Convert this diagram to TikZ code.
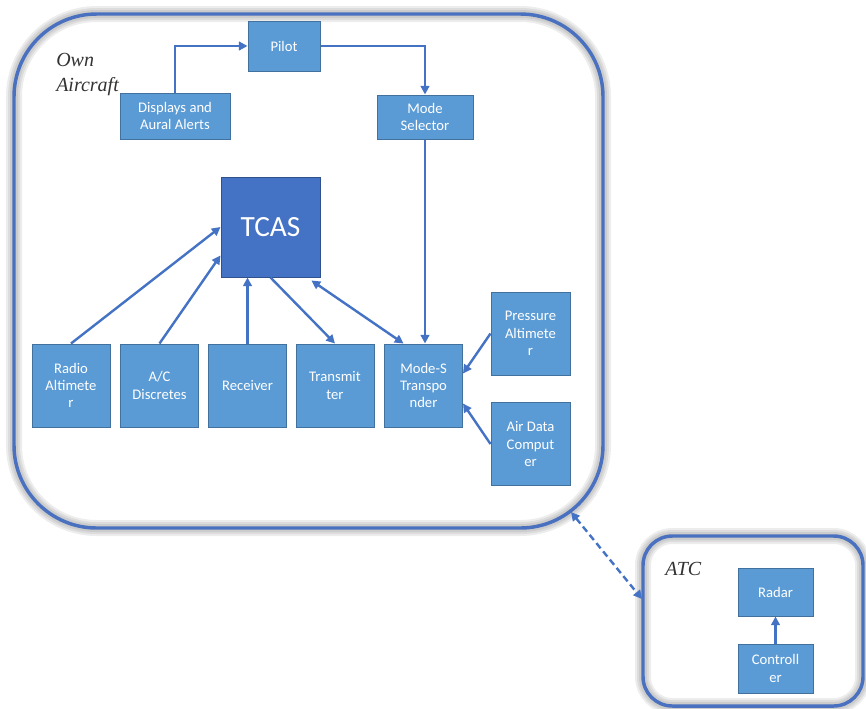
\documentclass[tikz,border=0pt]{standalone}
\usepackage{fontspec}
\setmainfont{Carlito}
\newfontfamily\labelfont{Liberation Serif}
\usetikzlibrary{arrows.meta,calc}
\definecolor{boxfill}{HTML}{5B9BD5}
\definecolor{boxedge}{HTML}{41719C}
\definecolor{corefill}{HTML}{4472C4}
\definecolor{coreedge}{HTML}{2F528F}
\definecolor{linkblue}{HTML}{4472C4}
\definecolor{framecol}{HTML}{4A70C0}
\tikzset{
  unit/.style={draw=boxedge, fill=boxfill, text=white, line width=0.75pt,
    inner sep=0pt, align=center, font=\fontsize{11}{13}\selectfont},
  core/.style={draw=coreedge, fill=corefill, text=white, line width=0.75pt,
    inner sep=0pt, align=center, font=\fontsize{22}{24}\selectfont},
  link/.style={draw=linkblue, line width=1.8pt,
    -{Triangle[length=6.5pt,width=6.5pt]}},
  twoway/.style={link, {Triangle[length=6.5pt,width=6.5pt]}-{Triangle[length=6.5pt,width=6.5pt]}},
  framebox/.style={draw=framecol, line width=2.6pt, fill=none},
  frameshade/.style={draw=black, line width=#1, opacity=0.07},
  grouplabel/.style={font=\labelfont\itshape\fontsize{15}{19}\selectfont,
    align=left, inner sep=0pt, text=black!80},
}
\begin{document}
\begin{tikzpicture}[x=0.75pt,y=-0.75pt]
\useasboundingbox (0,0) rectangle (866,708);
\fill[white] (0,0) rectangle (866,708);

% --- group frames with a soft shadow ---
\foreach \w in {12pt,9pt,6pt}{
  \draw[frameshade=\w, rounded corners=62pt] (14,14) rectangle (603,528);
  \draw[frameshade=\w, rounded corners=22pt] (643,536) rectangle (863,706);
}
\draw[framebox, rounded corners=62pt] (14,14) rectangle (603,528);
\draw[framebox, rounded corners=22pt] (643,536) rectangle (863,706);
\coordinate (ownlink) at (571,512);
\coordinate (atclink) at (642,599);

\node[grouplabel, anchor=north west] (ownlbl) at (56,53) {Own\\Aircraft};
\node[grouplabel, anchor=north west] (atclbl) at (665,562) {ATC};

% --- own aircraft units ---
\node[unit, minimum width=54pt, minimum height=37.5pt] (pilot) at (284,46) {Pilot};
\node[unit, minimum width=82.5pt, minimum height=34.5pt] (disp) at (175,116) {Displays and\\Aural Alerts};
\node[unit, minimum width=72pt, minimum height=33pt] (msel) at (425,117) {Mode\\Selector};
\node[core, minimum width=74.25pt, minimum height=75pt] (tcas) at (270.5,227) {TCAS};

\node[unit, minimum width=58.5pt, minimum height=62.25pt] (ralt) at (71,385.5) {Radio\\Altimete\\r};
\node[unit, minimum width=58.5pt, minimum height=62.25pt] (acd) at (159.5,385.5) {A/C\\Discretes};
\node[unit, minimum width=58.5pt, minimum height=62.25pt] (rcv) at (247.5,385.5) {Receiver};
\node[unit, minimum width=58.5pt, minimum height=62.25pt] (tx) at (335,385.5) {Transmit\\ter};
\node[unit, minimum width=58.5pt, minimum height=62.25pt] (xpdr) at (423.5,385.5) {Mode-S\\Transpo\\nder};
\node[unit, minimum width=59.25pt, minimum height=62.25pt] (palt) at (530.5,333.5) {Pressure\\Altimete\\r};
\node[unit, minimum width=59.25pt, minimum height=62.25pt] (adc) at (530.5,444) {Air Data\\Comput\\er};

% --- ATC units ---
\node[unit, minimum width=56.25pt, minimum height=36pt] (radar) at (775.5,592) {Radar};
\node[unit, minimum width=56.25pt, minimum height=36.75pt] (ctrl) at (775.5,668.5) {Controll\\er};

% --- connections ---
\draw[link] (disp.north) |- (pilot.west);
\draw[link] (pilot.east) -| (msel.north);
\draw[link] (msel.south) -- (msel.south |- xpdr.north);
\draw[link] (ralt.north) -- (tcas.west);
\draw[link] (acd.north) -- ($(tcas.south west)+(0,-22)$);
\draw[link] (rcv.north) -- (rcv.north |- tcas.south);
\draw[link] (tcas.south) -- (tx.north);
\draw[twoway] ($(tcas.south east)+(-9,3)$) -- ($(xpdr.north)+(-20,0)$);
\draw[link] (palt.west) -- ($(xpdr.east)+(0,-12)$);
\draw[link] (adc.west) -- ($(xpdr.east)+(0,18)$);
\draw[link] (ctrl.north) -- (radar.south);
\draw[twoway, dash pattern=on 5pt off 3pt] (ownlink) -- (atclink);
\end{tikzpicture}
\end{document}
